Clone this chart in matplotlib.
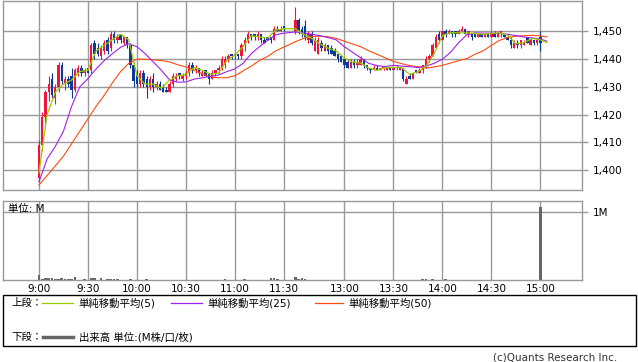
import matplotlib
matplotlib.use('Agg')
import matplotlib.pyplot as plt
import numpy as np

plt.rcParams['font.family'] = ['DejaVu Sans', 'Noto Sans CJK JP']

# 2-minute candles, morning 9:00-11:30 then afternoon 12:30-15:00
opens = [1397, 1409, 1419, 1428, 1433, 1426, 1430, 1438, 1431, 1433, 1434, 1429, 1435, 1437, 1435, 1437,
         1436, 1446, 1444, 1441, 1443, 1447, 1444, 1449, 1447, 1449, 1446, 1448, 1445, 1438, 1435, 1431,
         1435, 1433, 1430, 1433, 1430, 1431, 1430, 1429, 1428, 1431, 1433, 1435, 1433, 1434, 1435, 1438,
         1436, 1437, 1434, 1436, 1435, 1433, 1435, 1436, 1437, 1438, 1440, 1442, 1441, 1442, 1441, 1445,
         1447, 1449, 1449, 1448, 1449, 1447, 1448, 1448, 1447, 1451, 1450, 1452,
         1450, 1454, 1451, 1452, 1447, 1449, 1443, 1442, 1446, 1443, 1445, 1444, 1443, 1442, 1441, 1440,
         1439, 1437, 1439, 1438, 1438, 1440, 1438, 1437, 1436, 1437, 1436, 1437, 1436, 1437, 1436, 1437,
         1436, 1437, 1431, 1434, 1433, 1436, 1435, 1436, 1437, 1440, 1441, 1444, 1449, 1447, 1450, 1449,
         1450, 1450, 1449, 1450, 1451, 1449, 1449, 1449, 1448, 1449, 1448, 1449, 1448, 1449, 1448, 1449,
         1449, 1448, 1447, 1444, 1446, 1445, 1445, 1448, 1445, 1447, 1446, 1448]
highs = [1411, 1421, 1429, 1434, 1435, 1431, 1439, 1439, 1434, 1434, 1437, 1437, 1438, 1438, 1437, 1437,
         1446, 1447, 1446, 1445, 1447, 1448, 1450, 1450, 1449, 1449, 1448, 1448, 1446, 1439, 1436, 1436,
         1436, 1434, 1434, 1435, 1432, 1432, 1431, 1430, 1432, 1435, 1435, 1435, 1435, 1436, 1439, 1439,
         1438, 1437, 1436, 1436, 1435, 1436, 1436, 1438, 1441, 1441, 1442, 1442, 1442, 1442, 1446, 1448,
         1450, 1449, 1449, 1450, 1449, 1448, 1448, 1448, 1452, 1452, 1452, 1452,
         1459, 1455, 1452, 1454, 1450, 1450, 1448, 1448, 1447, 1446, 1445, 1445, 1444, 1442, 1441, 1440,
         1440, 1440, 1440, 1440, 1441, 1440, 1438, 1437, 1438, 1438, 1437, 1437, 1437, 1437, 1437, 1438,
         1437, 1437, 1434, 1435, 1435, 1436, 1437, 1438, 1441, 1442, 1446, 1449, 1450, 1450, 1451, 1451,
         1450, 1450, 1451, 1452, 1451, 1450, 1449, 1449, 1449, 1449, 1449, 1449, 1450, 1450, 1450, 1450,
         1449, 1449, 1448, 1447, 1447, 1447, 1447, 1448, 1448, 1447, 1447, 1450]
lows = [1396, 1407, 1417, 1425, 1426, 1424, 1428, 1431, 1429, 1430, 1426, 1428, 1434, 1434, 1434, 1435,
        1435, 1440, 1441, 1440, 1442, 1442, 1443, 1446, 1446, 1446, 1445, 1444, 1437, 1430, 1430, 1430,
        1430, 1426, 1429, 1428, 1429, 1429, 1428, 1428, 1428, 1430, 1432, 1433, 1432, 1433, 1434, 1435,
        1435, 1434, 1434, 1434, 1431, 1433, 1434, 1435, 1436, 1437, 1439, 1440, 1440, 1440, 1440, 1443,
        1446, 1447, 1447, 1447, 1446, 1446, 1447, 1446, 1447, 1450, 1450, 1450,
        1449, 1449, 1448, 1447, 1446, 1445, 1443, 1442, 1443, 1443, 1442, 1442, 1441, 1439, 1439, 1437,
        1437, 1437, 1437, 1437, 1438, 1437, 1436, 1435, 1436, 1436, 1436, 1436, 1436, 1436, 1436, 1436,
        1436, 1432, 1431, 1433, 1433, 1435, 1435, 1435, 1437, 1439, 1441, 1444, 1446, 1447, 1448, 1449,
        1448, 1448, 1449, 1450, 1449, 1448, 1447, 1448, 1448, 1448, 1448, 1448, 1448, 1448, 1448, 1448,
        1448, 1447, 1444, 1444, 1444, 1444, 1445, 1446, 1445, 1445, 1445, 1443]
closes = [1409, 1419, 1428, 1431, 1427, 1430, 1438, 1432, 1433, 1431, 1429, 1436, 1437, 1435, 1436, 1435,
          1445, 1442, 1442, 1444, 1446, 1443, 1449, 1447, 1448, 1447, 1448, 1445, 1438, 1432, 1431, 1435,
          1431, 1430, 1433, 1430, 1431, 1429, 1428, 1428, 1431, 1434, 1434, 1434, 1434, 1435, 1438, 1436,
          1437, 1435, 1435, 1434, 1433, 1435, 1436, 1437, 1440, 1440, 1441, 1441, 1442, 1441, 1445, 1447,
          1449, 1448, 1448, 1449, 1447, 1446, 1447, 1447, 1451, 1450, 1451, 1451,
          1454, 1450, 1449, 1448, 1449, 1446, 1447, 1447, 1444, 1445, 1443, 1442, 1441, 1440, 1439, 1438,
          1437, 1439, 1438, 1439, 1440, 1438, 1437, 1436, 1437, 1436, 1437, 1437, 1437, 1436, 1437, 1437,
          1437, 1433, 1433, 1433, 1435, 1435, 1436, 1438, 1440, 1441, 1445, 1448, 1447, 1450, 1449, 1450,
          1449, 1449, 1450, 1451, 1449, 1450, 1448, 1448, 1449, 1448, 1449, 1448, 1449, 1448, 1449, 1450,
          1448, 1447, 1445, 1446, 1445, 1447, 1446, 1446, 1447, 1446, 1447, 1446]
# volume (M shares) per candle
volume = [0.075, 0.01, 0.025, 0.03, 0.03, 0.01, 0.01, 0.03, 0.02, 0.01, 0.01, 0.045, 0.005, 0.005, 0.01, 0.005,
          0.03, 0.025, 0.005, 0.025, 0.005, 0.015, 0.015, 0.015, 0.015, 0.005, 0.005, 0.005, 0.015, 0.005, 0.005, 0.005,
          0.005, 0.015, 0.005, 0.005, 0.005, 0.005, 0.005, 0.005, 0.005, 0.005, 0.005, 0.005, 0.005, 0.005, 0.005, 0.005,
          0.005, 0.005, 0.005, 0.005, 0.005, 0.005, 0.005, 0.005, 0.005, 0.015, 0.005, 0.005, 0.005, 0.005, 0.005, 0.015,
          0.005, 0.005, 0.005, 0.005, 0.005, 0.005, 0.005, 0.025, 0.03, 0.01, 0.005, 0.005,
          0.045, 0.02, 0.025, 0.02, 0.005, 0.005, 0.005, 0.005, 0.005, 0.005, 0.005, 0.005, 0.005, 0.005, 0.005, 0.005,
          0.005, 0.005, 0.005, 0.005, 0.005, 0.005, 0.005, 0.005, 0.005, 0.005, 0.005, 0.005, 0.005, 0.005, 0.005, 0.005,
          0.005, 0.005, 0.005, 0.005, 0.005, 0.005, 0.005, 0.015, 0.01, 0.005, 0.015, 0.005, 0.005, 0.005, 0.015, 0.005,
          0.005, 0.005, 0.005, 0.005, 0.005, 0.005, 0.005, 0.005, 0.005, 0.005, 0.005, 0.005, 0.005, 0.005, 0.005, 0.005,
          0.005, 0.005, 0.005, 0.005, 0.005, 0.005, 0.005, 0.005, 0.005, 0.005, 0.005, 1.07]

# moving averages read every 5 minutes (9:00-11:30, 12:30-15:00) plus the last point at 15:04
ma5 = [1399, 1420, 1428, 1431, 1432.5, 1435.5, 1436, 1443, 1445, 1447, 1449, 1447, 1434, 1431, 1431, 1429.5,
       1432.5, 1434, 1434.5, 1437, 1436, 1434.5, 1435, 1439.5, 1441.5, 1444.5, 1448.5, 1448, 1447.6, 1450.5, 1451,
       1451, 1449, 1447.5, 1445.5, 1444, 1443, 1440.4, 1439, 1438.6, 1436.8, 1436, 1437, 1437, 1437, 1434.5, 1435.5,
       1437.5, 1442, 1448.5, 1449.6, 1449.5, 1449.5, 1449.3, 1449, 1449.3, 1449.5, 1448.7, 1445.5, 1446, 1447.5, 1447,
       1446]
ma25 = [1395.7, 1404, 1408.5, 1414, 1423, 1430, 1433, 1436.5, 1439.5, 1442, 1444.3, 1445.6, 1444.5, 1442, 1439, 1436,
        1432.5, 1431.7, 1431.8, 1432.8, 1433.3, 1433.8, 1434.3, 1435.5, 1436.5, 1438.5, 1442, 1444.5, 1446.8, 1448.8, 1449.4,
        1449.8, 1449.5, 1449, 1448.5, 1447.8, 1447, 1444.5, 1442.5, 1440.5, 1438.5, 1437.7, 1437.3, 1437.8, 1437.5, 1437.3, 1437,
        1437.5, 1438.5, 1440, 1442.5, 1446, 1448.8, 1449.5, 1449.4, 1449.4, 1449.3, 1449, 1448.5, 1448, 1447.7, 1447.3,
        1446.5]
ma50 = [1394.6, 1398, 1401.5, 1405, 1409.5, 1414, 1418.5, 1423, 1427, 1431.5, 1435.5, 1438.5, 1440, 1440, 1439.8, 1439.5,
        1439, 1438, 1437.2, 1436, 1434.8, 1433.6, 1433.3, 1433.3, 1434, 1435.8, 1437.5, 1439.5, 1441, 1443, 1444.4,
        1446.3, 1447.5, 1448.2, 1448.3, 1448.1, 1447.5, 1446.5, 1445.5, 1444.5, 1443, 1441.8, 1440.5, 1439.2, 1438.4, 1437.7,
        1437.3, 1436.8, 1437.2, 1437.8, 1438.6, 1439.5, 1440.2, 1441.8, 1443, 1445, 1446.8, 1447.8, 1448.3, 1448.5, 1448.6,
        1448.4, 1448]

time_ticks = ['9:00', '9:30', '10:00', '10:30', '11:00', '11:30', '13:00', '13:30', '14:00', '14:30', '15:00']
price_ticks = [1400, 1410, 1420, 1430, 1440, 1450]


def pos(hhmm):
    # minutes from 9:00, lunch break squeezed to a small gap
    h, m = hhmm.split(':')
    mins = int(h) * 60 + int(m)
    if mins <= 11 * 60 + 30:
        return mins - 540
    return 157 + mins - (12 * 60 + 30)


bar_x = np.concatenate([np.arange(0, 151, 2), 157 + np.arange(0, 151, 2)])
ma_times = ['%d:%02d' % divmod(540 + k, 60) for k in range(0, 151, 5)] + \
           ['%d:%02d' % divmod(750 + k, 60) for k in range(0, 151, 5)] + ['15:04']
ma_x = [pos(t) for t in ma_times]

UP = '#f0143c'
DOWN = '#0c3a96'
GRID = '#999999'

fig = plt.figure(figsize=(6.38, 3.62), dpi=100)
ax = fig.add_axes([3 / 638, 1 - 190 / 362, 579 / 638, 189 / 362])
axv = fig.add_axes([3 / 638, 1 - 280 / 362, 579 / 638, 79 / 362])

xlim = (-22, 332.5)
for a in (ax, axv):
    a.set_xlim(*xlim)
    a.set_xticks([pos(t) for t in time_ticks])
    a.grid(True, color=GRID, lw=1.0)
    a.set_axisbelow(True)
    for s in a.spines.values():
        s.set_color(GRID)
        s.set_linewidth(1.0)
    a.yaxis.tick_right()
    a.tick_params(axis='y', colors=GRID, length=4, width=1.0, labelcolor='black', labelsize=7.5, pad=4)
    a.tick_params(axis='x', length=0)

ax.set_ylim(1392.8, 1461)
ax.set_yticks(price_ticks)
ax.set_yticklabels(['{:,}'.format(p) for p in price_ticks])
ax.set_xticklabels([])

# candles
colors = [UP if c >= o else DOWN for o, c in zip(opens, closes)]
ax.vlines(bar_x, lows, highs, colors=colors, lw=0.8, zorder=2)
body_bottom = [min(o, c) for o, c in zip(opens, closes)]
body_height = [max(abs(c - o), 0.35) for o, c in zip(opens, closes)]
ax.bar(bar_x, body_height, bottom=body_bottom, width=1.5, color=colors, lw=0, zorder=2)

ax.plot(ma_x, ma50, color='#ff4a10', lw=0.8, zorder=3)
ax.plot(ma_x, ma25, color='#a020f0', lw=0.8, zorder=3)
ax.plot(ma_x, ma5, color='#99cc00', lw=0.9, zorder=4)

# volume
axv.set_ylim(0, 1.162)
axv.set_yticks([1])
axv.set_yticklabels(['1M'])
axv.bar(bar_x, volume, width=1.6, color='#666666', lw=0, zorder=2)
axv.set_xticklabels(time_ticks, fontsize=7.5)
axv.tick_params(axis='x', pad=3)
axv.text(0.008, 0.96, '単位: M', transform=axv.transAxes, fontsize=7.5, va='top', ha='left')

# legend box
box = plt.Rectangle((3 / 638, 1 - 346 / 362), 633 / 638, 51 / 362, transform=fig.transFigure,
                    fill=False, ec='black', lw=1.0)
fig.add_artist(box)
fy1 = 1 - 303 / 362
fy2 = 1 - 337 / 362
fig.text(11 / 638, fy1, '上段：', fontsize=7.5, va='center')
for x0, x1, col, label in [(42, 73, '#99cc00', '単純移動平均(5)'),
                           (171, 202, '#a020f0', '単純移動平均(25)'),
                           (315, 343, '#ff4a10', '単純移動平均(50)')]:
    fig.add_artist(plt.Line2D([x0 / 638, x1 / 638], [fy1, fy1], transform=fig.transFigure, color=col, lw=0.9))
    fig.text((x1 + 5) / 638, fy1, label, fontsize=7.5, va='center')
fig.text(11 / 638, fy2, '下段：', fontsize=7.5, va='center')
fig.add_artist(plt.Line2D([43 / 638, 73 / 638], [fy2, fy2], transform=fig.transFigure, color='#666666', lw=2.5))
fig.text(79 / 638, fy2, '出来高 単位:(M株/口/枚)', fontsize=7.5, va='center')
fig.text(617 / 638, 1 - 357 / 362, '(c)Quants Research Inc.', fontsize=7.5, va='center', ha='right', color='#333333')

fig.savefig('out.png', dpi=100)
